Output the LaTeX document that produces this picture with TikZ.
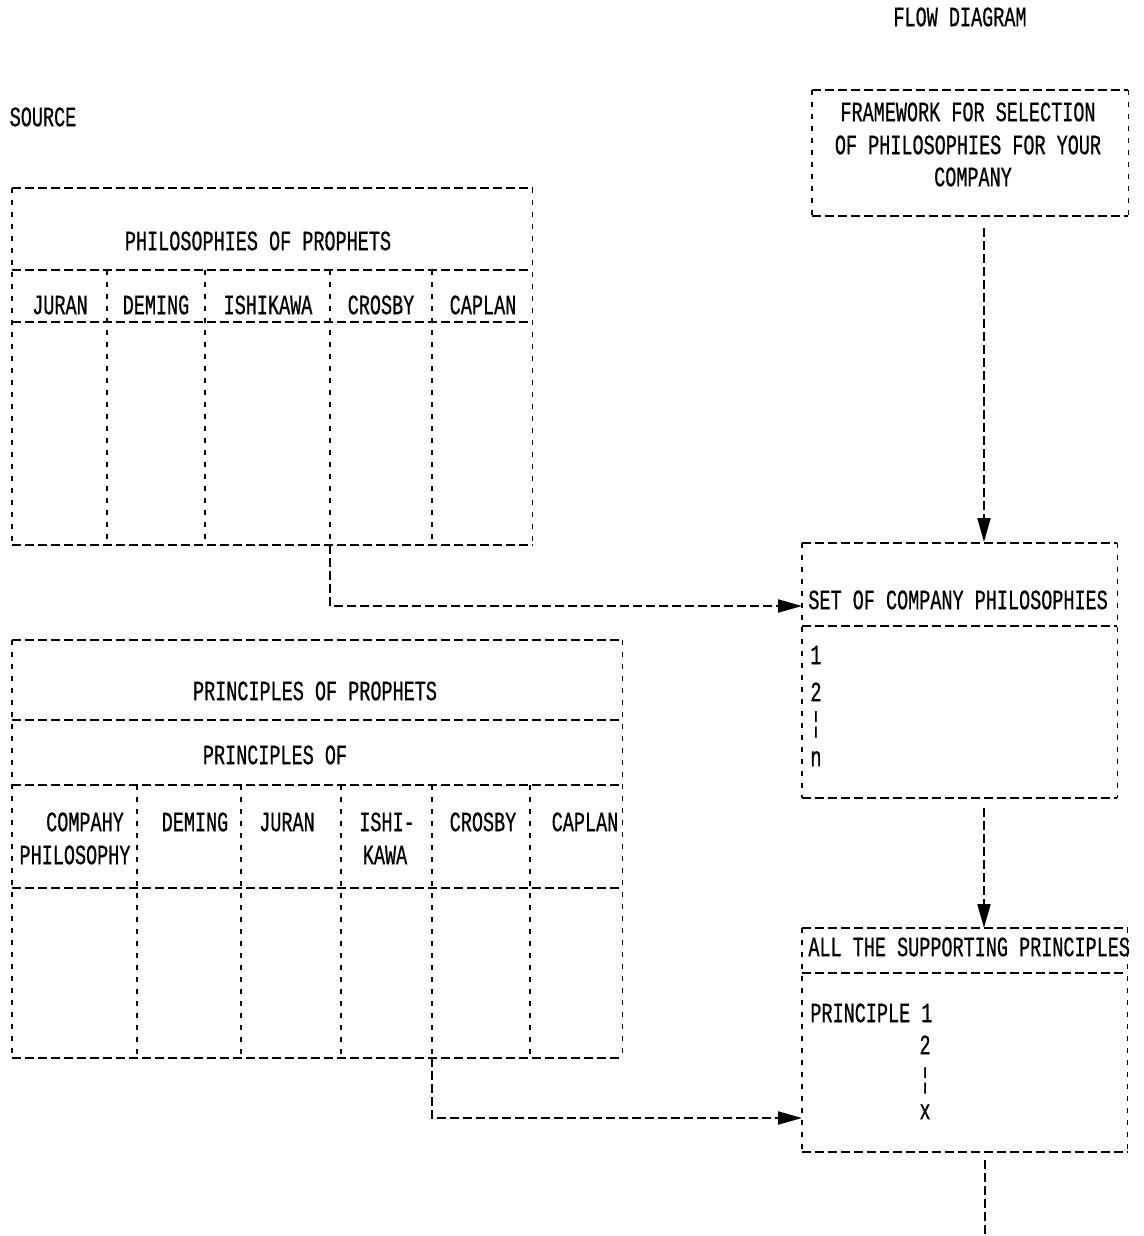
\documentclass[tikz,border=0pt]{standalone}
\usepackage{fontspec}
\newfontfamily\lp[FakeStretch=0.66,FakeBold=0.6]{Liberation Mono}
\usetikzlibrary{arrows.meta}
\newcommand\boxlines[1]{%
  \draw[hline] (#1.north west) -- (#1.north east) (#1.south west) -- (#1.south east);
  \draw[vline] (#1.north west) -- (#1.south west) (#1.north east) -- (#1.south east);}
\begin{document}
\begin{tikzpicture}[x=0.5pt,y=-0.5pt,
  hline/.style={line width=1.05pt, dash pattern=on 4.5pt off 2pt},
  vline/.style={line width=0.9pt, dash pattern=on 2.5pt off 3.5pt},
  txt/.style={inner sep=0pt, font=\lp\fontsize{14pt}{16pt}\selectfont, text height=9.2pt, text depth=0pt},
  area/.style={inner sep=0pt, draw=none},
  conn/.style={hline, -{Triangle[length=12pt,width=6.5pt]}}]
\useasboundingbox[fill=white] (0,0) rectangle (1144,1236);

% titles
\node[txt] (flow) at (960,17) {FLOW DIAGRAM};
\node[txt] (source) at (43,117) {SOURCE};

% framework box
\node[area, minimum width=158pt, minimum height=63pt] (frame) at (970,153) {};
\boxlines{frame}
\node[txt] (fr1) at (968,112) {FRAMEWORK FOR SELECTION};
\node[txt] (fr2) at (968,145) {OF PHILOSOPHIES FOR YOUR};
\node[txt] (fr3) at (973,177) {COMPANY};

% philosophies table
\node[area, minimum width=260pt, minimum height=178.5pt] (phil) at (272,366.5) {};
\boxlines{phil}
\node[txt] (philt) at (258,241) {PHILOSOPHIES OF PROPHETS};
\draw[hline] (12,270) -- (532,270) (12,322) -- (532,322);
\foreach \x in {107,205,330,432} \draw[vline] (\x,270) -- (\x,545);
\node[txt] (ph1) at (60,305) {JURAN};
\node[txt] (ph2) at (156,305) {DEMING};
\node[txt] (ph3) at (268,305) {ISHIKAWA};
\node[txt] (ph4) at (381,305) {CROSBY};
\node[txt] (ph5) at (483,305) {CAPLAN};

% principles table
\node[area, minimum width=305pt, minimum height=209pt] (prin) at (317,849) {};
\boxlines{prin}
\node[txt] (prt) at (315,691) {PRINCIPLES OF PROPHETS};
\node[txt] (prt2) at (275,755) {PRINCIPLES OF};
\draw[hline] (12,720) -- (622,720) (12,785) -- (622,785) (12,888) -- (622,888);
\foreach \x in {137,241,341,432,530} \draw[vline] (\x,785) -- (\x,1058);
\node[txt] (pc1) at (85,822) {COMPAHY};
\node[txt] (pc1b) at (75,855) {PHILOSOPHY};
\node[txt] (pc2) at (195,822) {DEMING};
\node[txt] (pc3) at (287,822) {JURAN};
\node[txt] (pc4) at (387,822) {ISHI-};
\node[txt] (pc4b) at (385,855) {KAWA};
\node[txt] (pc5) at (483,822) {CROSBY};
\node[txt] (pc6) at (585,822) {CAPLAN};

% set of company philosophies
\node[area, minimum width=157.5pt, minimum height=127.5pt] (setc) at (959.5,670.5) {};
\boxlines{setc}
\node[txt, anchor=west] (seth) at (808,600) {SET OF COMPANY PHILOSOPHIES};
\draw[hline] (802,626) -- (1117,626);
\node[txt, anchor=west] (s1) at (810,655) {1};
\node[txt, anchor=west] (s2) at (810,692) {2};
\node[txt, anchor=west] (s3) at (810,722) {¦};
\node[txt, anchor=west] (s4) at (810,757) {n};

% supporting principles
\node[area, minimum width=162.5pt, minimum height=112pt] (supp) at (964.5,1040) {};
\boxlines{supp}
\node[txt, anchor=west] (suph) at (808,947) {ALL THE SUPPORTING PRINCIPLES};
\draw[hline] (802,973) -- (1127,973);
\node[txt, anchor=west] (sp1) at (810,1013) {PRINCIPLE 1};
\node[txt] (sp2) at (925,1045) {2};
\node[txt] (sp3) at (925,1078) {¦};
\node[txt] (sp4) at (925,1110) {x};

% connectors
\coordinate (v1s) at (984,228);
\coordinate (v1e) at (984,542);
\draw[conn] (v1s) -- (v1e);
\coordinate (v2s) at (984,808);
\coordinate (v2e) at (984,928);
\draw[conn] (v2s) -- (v2e);
\coordinate (v3s) at (985,1160);
\coordinate (v3e) at (985,1236);
\draw[hline] (v3s) -- (v3e);
\coordinate (c1s) at (330,545);
\coordinate (c1e) at (802,606);
\draw[conn] (c1s) |- (c1e);
\coordinate (c2s) at (432,1058);
\coordinate (c2e) at (802,1118);
\draw[conn] (c2s) |- (c2e);
\end{tikzpicture}
\end{document}
